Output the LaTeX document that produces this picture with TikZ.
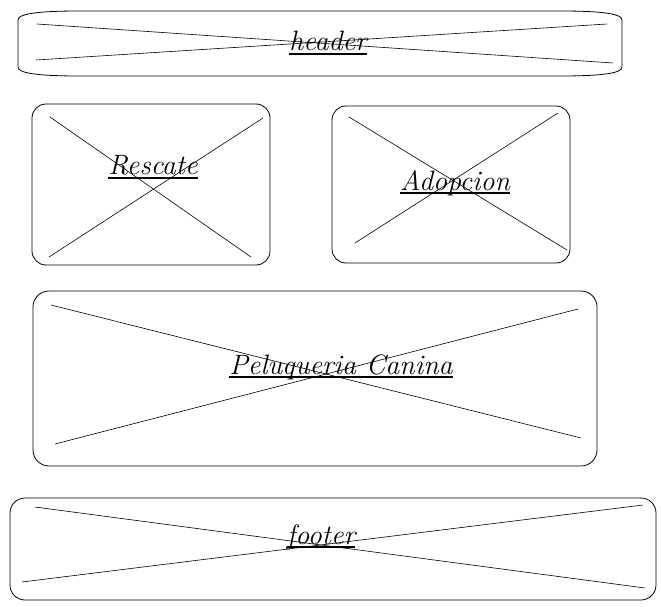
\documentclass[tikz,border=0pt]{standalone}

\tikzset{
  caja/.style={draw, line width=0.8pt, rounded corners=14pt},
  cruz/.style={line width=0.6pt},
  etiqueta/.style={inner sep=0pt, anchor=base, font=\fontsize{28}{32}\selectfont\itshape},
  raya/.style={line width=2pt},
}

\begin{document}
\begin{tikzpicture}[x=1pt,y=-1pt]
    \useasboundingbox (0,0) rectangle (661,607);
    % header
    \draw[line width=0.8pt] (80,11) -- (560,11) .. controls (604,11) and (622,14) .. (622,20) -- (622,67)
      .. controls (622,73) and (604,76) .. (560,76) -- (80,76) .. controls (36,76) and (18,73) .. (18,67)
      -- (18,20) .. controls (18,14) and (36,11) .. (80,11) -- cycle;
    \draw[cruz] (37,24) -- (613,63);
    \draw[cruz] (36,60) -- (607,24);
    \node[etiqueta] (header) at (328,51) {header};
    \draw[raya] ([yshift=-3pt]header.base west) -- ([yshift=-3pt]header.base east);
    % Rescate
    \draw[caja] (32,104) rectangle (270,265);
    \draw[cruz] (50,117) -- (251,257);
    \draw[cruz] (263,118) -- (49,257);
    \node[etiqueta] (rescate) at (153,175) {Rescate};
    \draw[raya] ([yshift=-3pt]rescate.base west) -- ([yshift=-3pt]rescate.base east);
    % Adopcion
    \draw[caja] (332,106) rectangle (570,263);
    \draw[cruz] (349,117) -- (567,250);
    \draw[cruz] (558,113) -- (355,243);
    \node[etiqueta] (adopcion) at (455,190) {Adopcion};
    \draw[raya] ([yshift=-3pt]adopcion.base west) -- ([yshift=-3pt]adopcion.base east);
    % Peluqueria Canina
    \draw[caja, rounded corners=16pt] (33,291) rectangle (597,466);
    \draw[cruz] (51,305) -- (581,438);
    \draw[cruz] (578,309) -- (55,444);
    \node[etiqueta] (peluqueria) at (341,374) {Peluqueria Canina};
    \draw[raya] ([yshift=-3pt]peluqueria.base west) -- ([yshift=-3pt]peluqueria.base east);
    % footer
    \draw[caja, rounded corners=15pt] (10,498) rectangle (656,600);
    \draw[cruz] (35,507) -- (645,588);
    \draw[cruz] (643,505) -- (22,582);
    \node[etiqueta] (footer) at (321,544) {footer};
    \draw[raya] ([yshift=-3pt]footer.base west) -- ([yshift=-3pt]footer.base east);
\end{tikzpicture}
\end{document}
